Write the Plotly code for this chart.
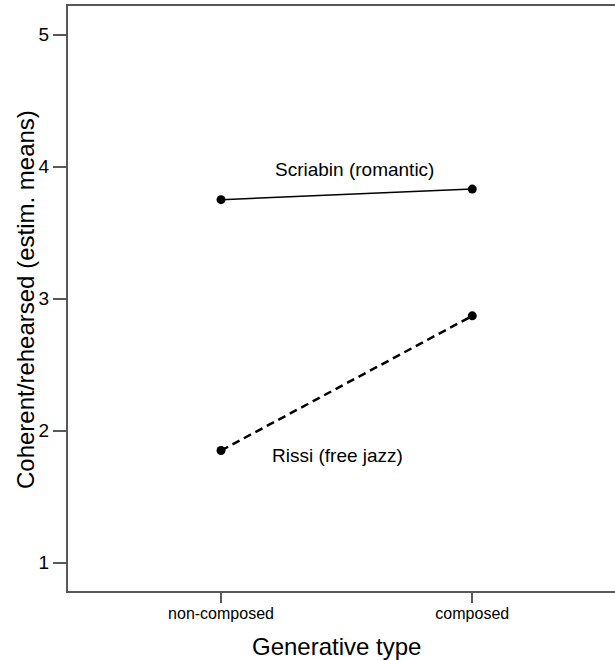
import plotly.graph_objects as go

categories = ["non-composed", "composed"]
scriabin = [3.75, 3.83]
rissi = [1.85, 2.87]
series_names = ["Scriabin (romantic)", "Rissi (free jazz)"]
y_ticks = [1, 2, 3, 4, 5]
x_title = "Generative type"
y_title = "Coherent/rehearsed (estim. means)"

FONT = "Liberation Sans, Arial, sans-serif"
AXIS_COLOR = "#585858"

fig = go.Figure()
fig.add_trace(go.Scatter(
    x=[0, 1], y=scriabin, mode="lines+markers", name=series_names[0],
    line=dict(color="black", width=1.5),
    marker=dict(color="black", size=9),
))
fig.add_trace(go.Scatter(
    x=[0, 1], y=rissi, mode="lines+markers", name=series_names[1],
    line=dict(color="black", width=2.5, dash="8px,5px"),
    marker=dict(color="black", size=9),
))

fig.add_annotation(x=0.53, y=3.98, text=series_names[0], showarrow=False,
                   font=dict(family=FONT, size=19, color="black"))
fig.add_annotation(x=0.465, y=1.81, text=series_names[1], showarrow=False,
                   font=dict(family=FONT, size=19, color="black"))

# axis titles
fig.add_annotation(xref="paper", yref="paper", x=(336 - 68) / 547, y=(591 - 646) / 585,
                   text=x_title, showarrow=False, xanchor="center", yanchor="middle",
                   font=dict(family=FONT, size=24, color="black"))
fig.add_annotation(xref="paper", yref="paper", x=(25 - 68) / 547, y=(591 - 300) / 585,
                   text=y_title, showarrow=False, textangle=-90,
                   xanchor="center", yanchor="middle",
                   font=dict(family=FONT, size=24, color="black"))

fig.update_layout(
    width=615, height=660,
    margin=dict(l=68, r=0, t=6, b=69),
    plot_bgcolor="white", paper_bgcolor="white",
    showlegend=False,
    font=dict(family=FONT, color="black"),
)
fig.update_xaxes(
    range=[-0.609, 1.568],
    tickmode="array", tickvals=[0, 1], ticktext=categories,
    showgrid=False, zeroline=False,
    showline=True, linecolor=AXIS_COLOR, linewidth=2, mirror=True,
    ticks="outside", ticklen=10, tickwidth=1.5, tickcolor=AXIS_COLOR,
    tickfont=dict(family=FONT, size=16, color="black"),
    ticklabelstandoff=-3,
)
fig.update_yaxes(
    range=[0.786, 5.217],
    tickmode="array", tickvals=y_ticks,
    showgrid=False, zeroline=False,
    showline=True, linecolor=AXIS_COLOR, linewidth=2, mirror=False,
    ticks="outside", ticklen=13, tickwidth=1.5, tickcolor=AXIS_COLOR,
    tickfont=dict(family=FONT, size=19, color="black"),
)

fig.write_html("out.html", config={"displayModeBar": False},
               post_script="document.body.style.margin='0px';")
